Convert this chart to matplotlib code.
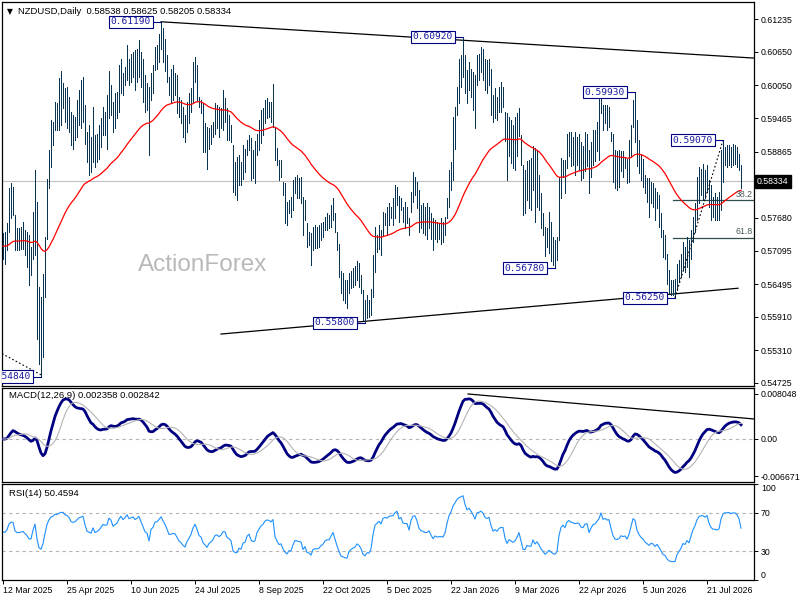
import numpy as np
import pandas as pd
import matplotlib
matplotlib.use("Agg")
import matplotlib.pyplot as plt
from matplotlib.transforms import blended_transform_factory

plt.rcParams["font.family"] = ["Liberation Sans", "DejaVu Sans"]

# ---------------------------------------------------------------------------
#  Data (daily bars, prices in pips: 5740 -> 0.5740)
# ---------------------------------------------------------------------------
HIGH = [
    5740, 5743, 5758, 5821, 5830, 5824, 5773, 5749, 5749, 5752, 5761, 5746, 5743, 5737, 5716, 5779,
    5853, 5797, 5644, 5627, 5668, 5734, 5838, 5889, 5943, 5940, 5976, 5973, 6018, 6030, 6009, 6000,
    6003, 5985, 5958, 5952, 5949, 5979, 5997, 6015, 6021, 5970, 5922, 5934, 5913, 5967, 5916, 5919,
    5934, 5946, 5967, 5958, 5988, 6030, 6006, 5976, 5991, 5994, 6041, 6053, 6027,
    6038, 6077, 6053, 6062, 6065, 6068, 6071, 6086, 6065, 6053, 6024, 6009, 6003, 6027, 6041, 6074,
    6077, 6098, 6119, 6107, 6089, 6059, 6021, 6035, 6041, 6027, 6024, 5985, 5979, 5967, 5952, 5976,
    5991, 6000, 6047, 6056, 6041, 5985, 5979, 5973, 5937, 5931, 5928, 5934, 5940, 5973, 5970, 5967,
    5964, 5997, 5982, 5964, 5952, 5934, 5898, 5868, 5877, 5880, 5868, 5898, 5892, 5907, 5916,
    5911, 5890, 5905, 5919, 5943, 5961, 5964, 5979, 5982, 5976, 5976, 6008, 5931, 5893, 5872, 5872,
    5833, 5830, 5797, 5800, 5806, 5836, 5842, 5845, 5839, 5842, 5806, 5800, 5758, 5743, 5740, 5752,
    5755, 5752, 5755, 5758, 5761, 5770, 5776, 5773, 5791, 5803, 5776, 5743, 5722, 5672, 5669, 5657,
    5657, 5669, 5672, 5678, 5681, 5690, 5687, 5666, 5639, 5621, 5630, 5621, 5640, 5702,
    5752, 5737, 5755, 5746, 5779, 5776, 5788, 5794, 5788, 5803, 5826, 5823, 5808, 5803, 5788, 5797,
    5788, 5767, 5814, 5850, 5841, 5832, 5817, 5791, 5794, 5788, 5794, 5788, 5776, 5767, 5764, 5761,
    5758, 5767, 5761, 5770, 5803, 5853, 5868, 5949, 5967, 6003, 6053, 6059, 6092, 6059, 6032, 6047,
    6035, 6029, 6023, 6059, 6062, 6074, 6071, 6053, 6050, 6053, 6035, 5988, 6000, 5985,
    6003, 6012, 6003, 5958, 5955, 5949, 5943, 5934, 5949, 5955, 5964, 5916, 5863, 5854, 5869, 5872,
    5875, 5896, 5893, 5887, 5845, 5812, 5776, 5752, 5749, 5779, 5761, 5734, 5728, 5734, 5842, 5875,
    5872, 5872, 5919, 5922, 5922, 5913, 5922, 5913, 5919, 5904, 5896, 5922, 5919, 5890, 5904, 5925,
    5925, 5940, 5988, 5991, 5970, 5970, 5970, 5967, 5922, 5919, 5890, 5887, 5890, 5887, 5887,
    5877, 5874, 5907, 5934, 5979, 5993, 5943, 5907, 5883,
    5874, 5845, 5839, 5839, 5833, 5830, 5821, 5815, 5809, 5776, 5746, 5737, 5704, 5674, 5656, 5656,
    5659, 5686, 5692, 5704, 5725, 5716, 5734, 5728, 5746, 5770, 5794, 5842, 5859, 5856, 5865, 5853,
    5862, 5836, 5827, 5806, 5812, 5806, 5815, 5889, 5907, 5895, 5898, 5898, 5895, 5901, 5898, 5895,
    5883, 5863,
]
LOW = [
    5695, 5686, 5710, 5743, 5767, 5773, 5710, 5710, 5710, 5713, 5713, 5701, 5680, 5647, 5665, 5695,
    5701, 5552, 5507, 5484, 5519, 5627, 5731, 5821, 5859, 5898, 5925, 5925, 5925, 5934, 5964, 5940,
    5928, 5922, 5898, 5892, 5907, 5913, 5934, 5928, 5940, 5901, 5868, 5844, 5850, 5868, 5859, 5868,
    5874, 5895, 5916, 5916, 5892, 5946, 5952, 5922, 5928, 5946, 5958, 5991, 5988,
    6006, 6015, 6006, 6012, 6021, 5997, 6012, 6021, 6003, 5976, 5958, 5961, 5880, 5979, 5991, 6033,
    6035, 6047, 6071, 6047, 6030, 6012, 5988, 5976, 5979, 5988, 5955, 5949, 5937, 5913, 5904, 5922,
    5937, 5958, 5976, 6012, 5979, 5967, 5955, 5886, 5886, 5856, 5892, 5901, 5913, 5919, 5928, 5913,
    5928, 5925, 5940, 5907, 5907, 5904, 5815, 5809, 5800, 5827, 5827, 5838, 5850, 5880, 5889,
    5836, 5839, 5830, 5881, 5890, 5902, 5917, 5937, 5946, 5949, 5940, 5931, 5872, 5863, 5836, 5842,
    5809, 5758, 5755, 5776, 5770, 5782, 5812, 5803, 5803, 5794, 5737, 5764, 5716, 5719, 5684, 5711,
    5714, 5714, 5716, 5728, 5734, 5746, 5746, 5749, 5752, 5764, 5743, 5711, 5663, 5633, 5621, 5615,
    5606, 5633, 5642, 5645, 5648, 5657, 5645, 5633, 5585, 5580, 5588, 5591, 5594, 5627,
    5671, 5707, 5713, 5701, 5737, 5755, 5737, 5755, 5767, 5755, 5767, 5791, 5761, 5782, 5761, 5749,
    5758, 5737, 5779, 5797, 5809, 5785, 5743, 5749, 5740, 5737, 5731, 5749, 5731, 5710, 5731, 5725,
    5731, 5722, 5725, 5737, 5767, 5788, 5818, 5835, 5892, 5952, 5973, 6003, 6020, 5991, 5973, 5997,
    5985, 5961, 5928, 6006, 6015, 6029, 6015, 5997, 5991, 6006, 5952, 5940, 5946, 5943,
    5958, 5958, 5967, 5905, 5836, 5878, 5866, 5857, 5854, 5878, 5914, 5863, 5773, 5776, 5800, 5785,
    5782, 5818, 5761, 5788, 5782, 5749, 5737, 5699, 5716, 5705, 5690, 5684, 5678, 5693, 5728, 5803,
    5842, 5812, 5857, 5878, 5860, 5863, 5845, 5863, 5854, 5836, 5839, 5851, 5860, 5812, 5842, 5863,
    5869, 5887, 5872, 5955, 5925, 5937, 5925, 5931, 5905, 5833, 5821, 5818, 5824, 5851, 5842,
    5857, 5830, 5833, 5877, 5931, 5904, 5860, 5848, 5836,
    5824, 5812, 5797, 5770, 5794, 5788, 5764, 5785, 5752, 5734, 5698, 5695, 5650, 5633, 5630, 5630,
    5625, 5639, 5653, 5662, 5674, 5671, 5680, 5662, 5695, 5725, 5743, 5764, 5794, 5809, 5800, 5803,
    5815, 5788, 5764, 5770, 5764, 5764, 5764, 5782, 5833, 5862, 5859, 5862, 5859, 5862, 5865, 5859,
    5853, 5821,
]
LAST_CLOSE = 0.58334
TITLE = "NZDUSD,Daily  0.58538 0.58625 0.58205 0.58334"
MACD_TITLE = "MACD(12,26,9) 0.002358 0.002842"
RSI_TITLE = "RSI(14) 50.4594"

DATE_BARS = [0, 32, 64, 96, 128, 160, 192, 224, 256, 288, 320, 352]
DATE_LABELS = ["12 Mar 2025", "25 Apr 2025", "10 Jun 2025", "24 Jul 2025", "8 Sep 2025",
               "22 Oct 2025", "5 Dec 2025", "22 Jan 2026", "9 Mar 2026", "22 Apr 2026",
               "5 Jun 2026", "21 Jul 2026"]

PRICE_TICKS = [0.61235, 0.60650, 0.60050, 0.59465, 0.58865, 0.57680, 0.57095,
               0.56495, 0.55910, 0.55310, 0.54725]
MACD_TICKS = [0.008048, 0.0, -0.006671]
MACD_TICK_LABELS = ["0.008048", "0.00", "-0.006671"]
RSI_TICKS = [100, 70, 30, 0]

# swing points marked with price boxes (bar index, price)
PIVOT_BARS = [79, 230, 316, 360, 276, 336, 181, 19]
PIVOT_PRICES = [0.61190, 0.60920, 0.59930, 0.59070, 0.56780, 0.56250, 0.55800, 0.54840]

# hand-drawn lines: (bar, price) anchors
UPPER_TL = ([79, 375.5], [0.61190, 0.60540])
LOWER_TL = ([109, 367.5], [0.55600, 0.56420])
OLD_TL = ([-0.5, 19], [0.55250, 0.54870])
MACD_TL = ([232.5, 375.5], [0.00805, 0.00358])
FIB_FROM, FIB_TO = (336, 0.56250), (360, 0.59070)
FIB_LEVELS = [38.2, 61.8]

RSI_SEED = 0.0015   # average gain / loss carried in from before the window

BAR_COLOR = "#083452"
NAVY = "#000080"

# ---------------------------------------------------------------------------
#  Indicators (MT4 style, on median price)
# ---------------------------------------------------------------------------
high = np.array(HIGH) / 1e4
low = np.array(LOW) / 1e4
x = np.arange(len(high))
med = pd.Series((high + low) / 2)
ema55 = med.ewm(span=55, adjust=False).mean()
macd = med.ewm(span=12, adjust=False).mean() - med.ewm(span=26, adjust=False).mean()
signal = macd.rolling(9, min_periods=1).mean()

g = l = RSI_SEED
rsi = []
for d in med.diff().fillna(0):
    g = (g * 13 + max(d, 0)) / 14
    l = (l * 13 + max(-d, 0)) / 14
    rsi.append(100 - 100 / (1 + g / l))

# ---------------------------------------------------------------------------
#  Layout
# ---------------------------------------------------------------------------
fig = plt.figure(figsize=(8, 6), dpi=100)
L, W = 2 / 800, 752 / 800
ax = fig.add_axes([L, 1 - 386 / 600, W, 384 / 600])
axm = fig.add_axes([L, 1 - 482 / 600, W, 94 / 600], sharex=ax)
axr = fig.add_axes([L, 1 - 580 / 600, W, 96 / 600], sharex=ax)

for a in (ax, axm, axr):
    for s in a.spines.values():
        s.set_linewidth(0.9)
        s.set_color("black")
    a.yaxis.tick_right()
    a.tick_params(axis="y", length=3, width=0.7, pad=2, labelsize=6.3)
    a.tick_params(axis="x", bottom=False, labelbottom=False)

ax.set_xlim(-0.5, 375.5)
ax.set_ylim(0.54670, 0.61544)
axm.set_ylim(-0.0077, 0.00912)
axr.set_ylim(0, 100)

# --- main panel ---
ax.text(0.011, 1 - 10 / 384, "▼", transform=ax.transAxes, fontsize=5.5,
        family="DejaVu Sans", va="center", ha="center")
ax.text(0.021, 1 - 10 / 384, TITLE, transform=ax.transAxes, fontsize=6.8,
        va="center", ha="left")
ax.text(0.181, 0.315, "ActionForex", transform=ax.transAxes, fontsize=17.5,
        color="#b9b9b9", va="center", ha="left", zorder=0)

ax.axhline(LAST_CLOSE, color="#c0c0c0", lw=0.8, zorder=1)
ax.vlines(x, low, high, colors=BAR_COLOR, linewidth=0.6, antialiased=False, zorder=3)
ax.plot(x, ema55, color="red", lw=0.9, zorder=4)

ax.plot(*UPPER_TL, color="black", lw=0.9, zorder=2)
ax.plot(*LOWER_TL, color="black", lw=0.9, zorder=2)
ax.plot(*OLD_TL, color="black", lw=0.8, ls=(0, (1.5, 2)), zorder=2)
ax.plot([FIB_FROM[0], FIB_TO[0]], [FIB_FROM[1], FIB_TO[1]], color="black", lw=0.8,
        ls=(0, (1.5, 2)), zorder=5)

rng = FIB_TO[1] - FIB_FROM[1]
for lvl in FIB_LEVELS:
    p = FIB_TO[1] - rng * lvl / 100
    ax.plot([FIB_FROM[0] - 1, 375.5], [p, p], color="#2f4f4f", lw=0.9, zorder=2)
    ax.text(375, p + 0.0003, f"{lvl:.1f}", fontsize=6.3, color="#4a5a5a",
            ha="right", va="bottom", zorder=6)

for b, p in zip(PIVOT_BARS, PIVOT_PRICES):
    ax.plot([b - 5, b], [p, p], color=NAVY, lw=0.8, zorder=5)
    t = ax.text(b - 5, p, f"{p:.5f}", fontsize=6.8, family="DejaVu Sans Mono",
                color="#1a1aa0", ha="right", va="center", zorder=6,
                bbox=dict(boxstyle="square,pad=0.18", fc="white", ec=NAVY, lw=0.8))
    t.set_clip_on(True)

ax.set_yticks(PRICE_TICKS)
ax.set_yticklabels([f"{v:.5f}" for v in PRICE_TICKS])
tr = blended_transform_factory(ax.transAxes, ax.transData)
ax.text(1.004, LAST_CLOSE, f"{LAST_CLOSE:.5f}", transform=tr, fontsize=6.3, color="white",
        ha="left", va="center", clip_on=False,
        bbox=dict(boxstyle="square,pad=0.25", fc="black", ec="black"))

# --- MACD panel ---
axm.axhline(0, color="#b4b4b4", lw=0.8, ls=(0, (3, 3)))
axm.plot(x, macd, color=NAVY, lw=2.0, zorder=3)
axm.plot(x, signal, color="#b4b4b4", lw=0.8, zorder=4)
axm.plot(*MACD_TL, color="black", lw=0.9, zorder=2)
axm.text(0.009, 0.915, MACD_TITLE, transform=axm.transAxes, fontsize=6.8,
         va="center", ha="left")
axm.set_yticks(MACD_TICKS)
axm.set_yticklabels(MACD_TICK_LABELS)

# --- RSI panel ---
for lvl in (70, 30):
    axr.axhline(lvl, color="#b4b4b4", lw=0.8, ls=(0, (3, 3)))
axr.plot(x, rsi, color="#1e90ff", lw=0.8)
axr.text(0.009, 0.896, RSI_TITLE, transform=axr.transAxes, fontsize=6.8,
         va="center", ha="left")
axr.set_yticks(RSI_TICKS)
axr.set_yticklabels([str(v) for v in RSI_TICKS])
labs = axr.get_yticklabels()
labs[0].set_va("top")
labs[-1].set_va("bottom")

axr.tick_params(axis="x", bottom=True, labelbottom=True, length=3, width=0.7,
                pad=1.5, labelsize=6.3)
axr.set_xticks(DATE_BARS)
axr.set_xticklabels(DATE_LABELS, ha="left")

fig.savefig("out.png", dpi=100)
